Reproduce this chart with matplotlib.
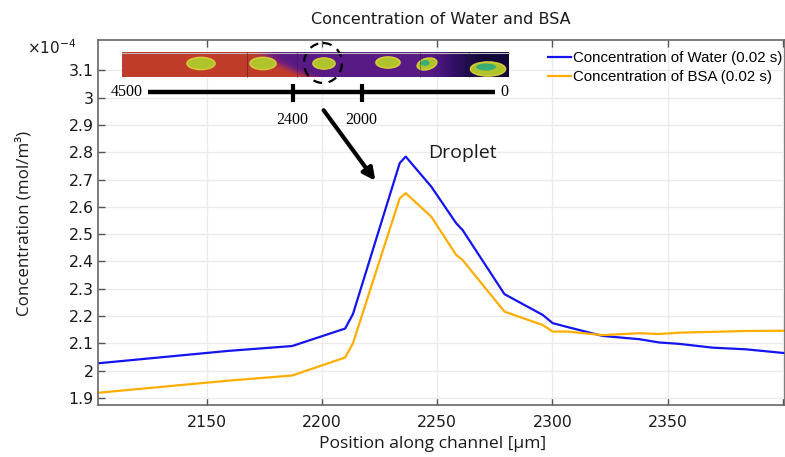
import numpy as np
import matplotlib.pyplot as plt
from matplotlib.colors import LinearSegmentedColormap
from matplotlib.patches import Ellipse

# concentration profiles at t = 0.02 s, values in 1e-4 mol/m^3
x_water = [2103, 2159, 2187, 2210, 2213.4, 2233.7, 2236.3, 2247.4, 2258.2, 2261,
           2279.2, 2295.8, 2300.1, 2305.9, 2321.8, 2337.8, 2346.4, 2355, 2369.6, 2384, 2401]
c_water = [2.027, 2.072, 2.090, 2.154, 2.207, 2.760, 2.784, 2.674, 2.540, 2.515,
           2.280, 2.204, 2.174, 2.161, 2.127, 2.115, 2.103, 2.098, 2.084, 2.078, 2.064]
x_bsa = [2103, 2159, 2187, 2210, 2213.4, 2233.7, 2236.3, 2247.4, 2258.2, 2261,
         2279.2, 2295.8, 2300.1, 2306.6, 2321.8, 2337.8, 2346.4, 2355, 2369.6, 2384, 2401]
c_bsa = [1.919, 1.963, 1.982, 2.048, 2.100, 2.631, 2.650, 2.564, 2.424, 2.405,
         2.216, 2.167, 2.143, 2.143, 2.130, 2.137, 2.134, 2.139, 2.142, 2.145, 2.146]

x_ticks = [2150, 2200, 2250, 2300, 2350, 2400]
x_ticklabels = ['2150', '2200', '2250', '2300', '2350', '']
y_ticks = [1.9, 2.0, 2.1, 2.2, 2.3, 2.4, 2.5, 2.6, 2.7, 2.8, 2.9, 3.0, 3.1]

# channel scale bar labels (um along the whole channel)
bar_labels = ['4500', '2400', '2000', '0']

W, H = 785, 457
fig = plt.figure(figsize=(W / 100, H / 100), dpi=100)
ax = fig.add_axes([98 / W, (H - 405) / H, (W - 98) / W, (405 - 40) / H])

ax.plot(x_water, c_water, color='#1414f0', lw=1.6, label='Concentration of Water (0.02 s)')
ax.plot(x_bsa, c_bsa, color='#ffad00', lw=1.6, label='Concentration of BSA (0.02 s)')

ax.set_xlim(2102.7, 2401)
ax.set_ylim(1.874, 3.211)
ax.set_xticks(x_ticks)
ax.set_xticklabels(x_ticklabels)
ax.set_yticks(y_ticks)
ax.set_yticklabels(['%g' % t for t in y_ticks])
ax.grid(True, color='#ebebeb', lw=1)
ax.set_axisbelow(True)
ax.tick_params(direction='in', top=True, right=False, length=5, width=1,
               color='#555555', labelsize=11.3, labelcolor='#1a1a1a')
ax.tick_params(axis='x', pad=7)
ax.tick_params(axis='y', pad=3)
for s in ax.spines.values():
    s.set_color('#666666')
    s.set_linewidth(1.2)

ax.legend(loc='upper left', bbox_to_anchor=(548 / W, 1 - 51 / H),
          bbox_transform=fig.transFigure, frameon=False,
          prop={'family': 'Liberation Sans', 'size': 10.8},
          handlelength=1.55, handletextpad=0.1, borderpad=0, borderaxespad=0,
          labelspacing=0.35)

fig.text(441 / W, 1 - 20 / H, 'Concentration of Water and BSA', ha='center', va='center',
         fontsize=11.5, color='#1a1a1a')
fig.text(433 / W, 1 - 444 / H, 'Position along channel [µm]', ha='center', va='center',
         family='Open Sans', fontsize=12.6, color='#1a1a1a')
fig.text(24 / W, 1 - 223 / H, 'Concentration (mol/m³)', ha='center', va='center',
         rotation=90, family='Open Sans', fontsize=12.2, color='#1a1a1a')
fig.text(27 / W, 1 - 48 / H, r'$\times10^{-4}$', ha='left', va='center',
         fontsize=11, color='#1a1a1a')

# overlay in pixel coordinates for the channel snapshot and annotations
ov = fig.add_axes([0, 0, 1, 1])
ov.set_xlim(0, W)
ov.set_ylim(H, 0)
ov.axis('off')
ov.patch.set_alpha(0)

# channel snapshot: red inlet side fading to dark outlet side
sw, sh = 387, 25
px = 122 + np.linspace(0, sw, sw)[None, :]
v = np.linspace(0, 1, sh)[:, None]


def smooth(s):
    s = np.clip(s, 0, 1)
    return s * s * (3 - 2 * s)


edge = 248 + 45 * v ** 1.5
t = 1 - 0.5 * smooth((px - edge) / 35) - 0.5 * smooth((px - 425) / 65)
cmap = LinearSegmentedColormap.from_list('chan', [
    (0.0, '#120838'), (0.3, '#33106a'), (0.5, '#581a86'),
    (0.7, '#7e2274'), (0.85, '#a8314a'), (1.0, '#c03c2a')])
ov.imshow(cmap(t), extent=(122, 509, 77, 52), aspect='auto', interpolation='bilinear')
ov.plot([122, 509], [52.5, 52.5], color='#bbbbbb', lw=0.8)
for xl in [247, 297, 420, 469]:
    ov.plot([xl, xl], [52, 77], color='#222222', lw=0.6, alpha=0.5)

for cx, cy, w, h in [(201, 63.5, 28, 12), (263, 63.5, 26, 12), (324, 63.5, 22, 11),
                     (388, 62.5, 24, 11)]:
    ov.add_patch(Ellipse((cx, cy), w, h, facecolor='#aec42a', edgecolor='#d6c83a', lw=1.2))
ov.add_patch(Ellipse((427, 64), 20, 11, angle=-15, facecolor='#aec42a',
                     edgecolor='#d6c83a', lw=1.2))
ov.add_patch(Ellipse((425, 63), 9, 6, facecolor='#3aae74', edgecolor='none'))
ov.add_patch(Ellipse((488, 69), 35, 14, facecolor='#aec42a', edgecolor='#d6c83a', lw=1.2))
ov.add_patch(Ellipse((486, 67), 20, 7, facecolor='#3aae74', edgecolor='none'))

ov.add_patch(Ellipse((323, 63), 38, 40, fill=False, edgecolor='k', lw=1.6,
                     linestyle=(0, (4, 3))))

# scale bar along the channel
ov.plot([148, 495], [92, 92], color='k', lw=3.2, solid_capstyle='butt')
for xt in [293, 362]:
    ov.plot([xt, xt], [84, 102], color='k', lw=3, solid_capstyle='butt')
serif = dict(family='Liberation Serif', fontsize=11.5, color='k', va='center')
ov.text(143, 92, bar_labels[0], ha='right', **serif)
ov.text(292, 120, bar_labels[1], ha='center', **serif)
ov.text(361, 120, bar_labels[2], ha='center', **serif)
ov.text(500, 92, bar_labels[3], ha='left', **serif)

ov.annotate('', xy=(377, 183), xytext=(322, 108),
            arrowprops=dict(arrowstyle='-|>', lw=3, color='k', mutation_scale=18))
ov.text(462, 153, 'Droplet', ha='center', va='center', family='Open Sans',
        fontsize=14, color='#1a1a1a')

fig.savefig('out.png', dpi=100)
